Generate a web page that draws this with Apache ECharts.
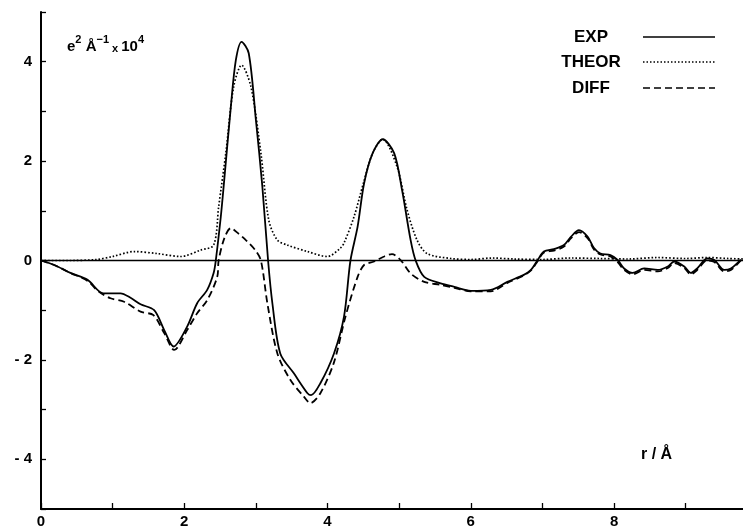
<!DOCTYPE html>
<html>
<head>
<meta charset="utf-8">
<script src="https://cdn.jsdelivr.net/npm/echarts@6/dist/echarts.min.js"></script>
<style>html,body{margin:0;padding:0;background:#fff}#c{width:743px;height:529px}</style>
</head>
<body>
<div id="c"></div>
<script>
// ---- data ----
const rExp = [0, 0.2, 0.41, 0.65, 0.87, 1.11, 1.25, 1.39, 1.58, 1.72, 1.85, 2.04, 2.18, 2.32, 2.41, 2.44, 2.51, 2.55, 2.65, 2.72, 2.80, 2.90, 3.0, 3.09, 3.17, 3.23, 3.34, 3.53, 3.72, 3.77, 3.90, 4.09, 4.23, 4.32, 4.42, 4.51, 4.63, 4.77, 4.93, 5.04, 5.16, 5.23, 5.35, 5.58, 5.77, 6.0, 6.28, 6.51, 6.74, 6.84, 6.93, 7.02, 7.16, 7.30, 7.40, 7.51, 7.63, 7.72, 7.81, 7.95, 8.05, 8.14, 8.26, 8.42, 8.61, 8.75, 8.84, 8.98, 9.07, 9.16, 9.30, 9.40, 9.54, 9.63, 9.77];
const exp  = [0, -0.1, -0.25, -0.39, -0.66, -0.66, -0.75, -0.88, -1.0, -1.40, -1.73, -1.33, -0.86, -0.59, -0.25, 0, 0.88, 1.49, 3.09, 4.03, 4.40, 4.17, 2.83, 1.49, 0, -0.86, -1.87, -2.27, -2.67, -2.71, -2.47, -1.87, -1.13, 0, 0.68, 1.55, 2.16, 2.44, 2.16, 1.42, 0.41, 0, -0.33, -0.46, -0.53, -0.61, -0.59, -0.43, -0.29, -0.19, 0, 0.18, 0.23, 0.31, 0.48, 0.61, 0.48, 0.25, 0.14, 0.11, 0.01, -0.16, -0.25, -0.16, -0.19, -0.12, -0.02, -0.12, -0.25, -0.16, 0.04, 0.01, -0.19, -0.16, 0.02];

const rTheor = [0, 0.4, 0.78, 1.0, 1.30, 1.62, 1.95, 2.23, 2.41, 2.48, 2.58, 2.69, 2.80, 2.93, 3.07, 3.18, 3.30, 3.44, 3.72, 4.0, 4.18, 4.23, 4.37, 4.5, 4.63, 4.77, 4.97, 5.11, 5.25, 5.39, 5.72, 6.0, 6.3, 6.6, 7.0, 7.4, 7.8, 8.2, 8.6, 9.0, 9.3, 9.6, 9.8];
const theor  = [0, 0, 0.02, 0.08, 0.18, 0.14, 0.08, 0.21, 0.31, 1.08, 2.16, 3.50, 3.93, 3.50, 2.16, 0.81, 0.41, 0.31, 0.18, 0.08, 0.25, 0.35, 0.88, 1.55, 2.16, 2.44, 1.89, 1.02, 0.41, 0.14, 0.04, 0.02, 0.05, 0.03, 0.02, 0.05, 0.04, 0.03, 0.06, 0.04, 0.06, 0.04, 0.03];

const rDiff = [0, 0.2, 0.41, 0.65, 0.8, 0.97, 1.16, 1.39, 1.57, 1.72, 1.86, 2.04, 2.18, 2.32, 2.46, 2.48, 2.56, 2.65, 2.75, 2.86, 2.99, 3.07, 3.16, 3.30, 3.48, 3.67, 3.76, 3.90, 4.09, 4.25, 4.42, 4.51, 4.65, 4.79, 4.90, 5.02, 5.16, 5.35, 5.58, 5.77, 6.0, 6.28, 6.51, 6.74, 6.84, 6.93, 7.02, 7.16, 7.30, 7.40, 7.51, 7.63, 7.72, 7.81, 7.95, 8.05, 8.14, 8.26, 8.42, 8.61, 8.75, 8.84, 8.98, 9.07, 9.16, 9.30, 9.40, 9.54, 9.63, 9.77];
const diff  = [0, -0.1, -0.25, -0.41, -0.62, -0.76, -0.83, -1.03, -1.10, -1.46, -1.80, -1.40, -1.06, -0.80, -0.33, 0, 0.45, 0.65, 0.55, 0.41, 0.21, 0, -0.86, -1.87, -2.40, -2.74, -2.87, -2.67, -2.05, -1.13, -0.33, -0.09, -0.02, 0.08, 0.13, 0.01, -0.26, -0.43, -0.49, -0.55, -0.62, -0.62, -0.45, -0.30, -0.20, -0.02, 0.16, 0.20, 0.28, 0.45, 0.57, 0.45, 0.22, 0.12, 0.08, -0.03, -0.19, -0.28, -0.19, -0.22, -0.15, -0.05, -0.15, -0.28, -0.19, 0.0, -0.03, -0.22, -0.19, 0.0];

const legendNames = ['EXP', 'THEOR', 'DIFF'];
const xTickLabels = [0, 2, 4, 6, 8];
const yTickLabels = [-4, -2, 0, 2, 4];

// ---- chart ----
const pairs = (xs, ys) => xs.map((x, i) => [x, ys[i]]);
const FONT = '"Liberation Sans", Arial, sans-serif';
const chart = echarts.init(document.getElementById('c'), null, {renderer: 'canvas'});

const lineSeries = (name, xs, ys, type, w) => ({
  name, type: 'line', data: pairs(xs, ys), showSymbol: false, symbol: 'none',
  smooth: 0.3,
  lineStyle: {color: '#000', width: w, type: type},
  z: 3
});

chart.setOption({
  animation: false,
  backgroundColor: '#fff',
  grid: {left: 41, right: 0, top: 12, bottom: 20, containLabel: false},
  xAxis: {
    type: 'value', min: 0, max: 9.8, interval: 1,
    axisLine: {onZero: false, lineStyle: {color: '#000', width: 2}},
    axisTick: {inside: true, length: 6, lineStyle: {color: '#000', width: 1.3}},
    splitLine: {show: false},
    axisLabel: {
      margin: 5, color: '#000', fontFamily: FONT, fontWeight: 'bold', fontSize: 15,
      showMaxLabel: false,
      formatter: v => xTickLabels.indexOf(v) >= 0 ? String(v) : ''
    }
  },
  yAxis: {
    type: 'value', min: -5, max: 5, interval: 1,
    axisLine: {show: true, onZero: false, lineStyle: {color: '#000', width: 2}},
    axisTick: {show: true, inside: true, length: 5, lineStyle: {color: '#000', width: 1.3}},
    splitLine: {show: false},
    axisLabel: {
      margin: 9, color: '#000', fontFamily: FONT, fontWeight: 'bold', fontSize: 15,
      formatter: v => yTickLabels.indexOf(v) >= 0 ? (v < 0 ? '- ' + Math.abs(v) : String(v)) : ''
    }
  },
  series: [
    Object.assign(lineSeries(legendNames[0], rExp, exp, 'solid', 1.8), {
      markLine: {
        silent: true, symbol: 'none', label: {show: false},
        lineStyle: {color: '#000', width: 1.3, type: 'solid'},
        data: [{yAxis: 0}]
      }
    }),
    lineSeries(legendNames[1], rTheor, theor, [1.6, 2], 1.7),
    lineSeries(legendNames[2], rDiff, diff, [7, 4], 1.8)
  ],
  graphic: [
    {type: 'text', left: 67, top: 34, style: {
      text: '{b|e}{s|2}{b| Å}{s|−1}{m| x }{b|10}{s|4}',
      rich: {
        b: {fontFamily: FONT, fontWeight: 'bold', fontSize: 15, fill: '#000', verticalAlign: 'bottom', lineHeight: 20},
        s: {fontFamily: FONT, fontWeight: 'bold', fontSize: 11, fill: '#000', verticalAlign: 'top', lineHeight: 20},
        m: {fontFamily: FONT, fontWeight: 'bold', fontSize: 11, fill: '#000', verticalAlign: 'bottom', lineHeight: 20}
      }
    }},
    {type: 'text', x: 591, y: 37, style: {text: legendNames[0], font: 'bold 17px ' + FONT, fill: '#000', align: 'center', verticalAlign: 'middle'}},
    {type: 'text', x: 591, y: 62, style: {text: legendNames[1], font: 'bold 17px ' + FONT, fill: '#000', align: 'center', verticalAlign: 'middle'}},
    {type: 'text', x: 591, y: 88, style: {text: legendNames[2], font: 'bold 17px ' + FONT, fill: '#000', align: 'center', verticalAlign: 'middle'}},
    {type: 'line', shape: {x1: 643, y1: 37, x2: 715, y2: 37}, style: {stroke: '#000', lineWidth: 1.5}},
    {type: 'line', shape: {x1: 643, y1: 62, x2: 715, y2: 62}, style: {stroke: '#000', lineWidth: 1.5, lineDash: [1.5, 2]}},
    {type: 'line', shape: {x1: 643, y1: 88, x2: 715, y2: 88}, style: {stroke: '#000', lineWidth: 1.5, lineDash: [7, 4]}},
    {type: 'text', x: 641, y: 455, style: {text: 'r / Å', font: 'bold 16px ' + FONT, fill: '#000', verticalAlign: 'middle'}}
  ]
});
</script>
</body>
</html>
